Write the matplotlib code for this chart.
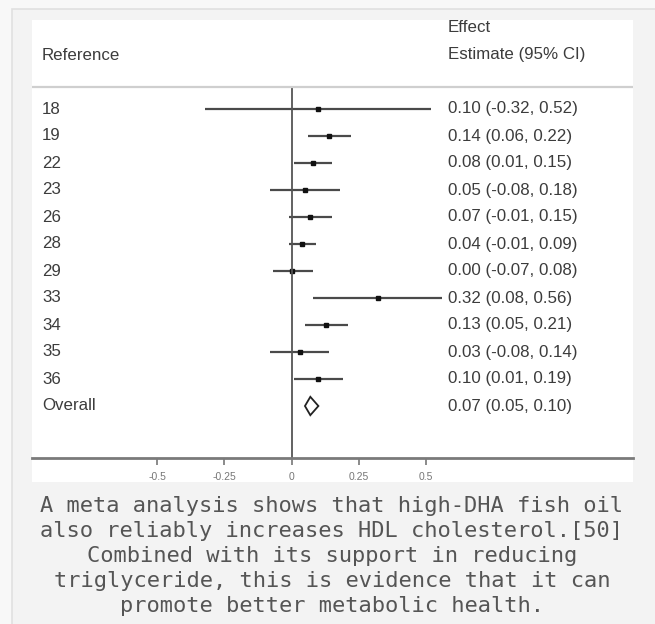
import matplotlib
matplotlib.use('Agg')
import matplotlib.pyplot as plt
from matplotlib.patches import Rectangle, Polygon
import matplotlib.transforms as mtransforms

# Forest plot data (effect estimates with 95% CI)
refs = ['18', '19', '22', '23', '26', '28', '29', '33', '34', '35', '36']
est = [0.10, 0.14, 0.08, 0.05, 0.07, 0.04, 0.00, 0.32, 0.13, 0.03, 0.10]
lo = [-0.32, 0.06, 0.01, -0.08, -0.01, -0.01, -0.07, 0.08, 0.05, -0.08, 0.01]
hi = [0.52, 0.22, 0.15, 0.18, 0.15, 0.09, 0.08, 0.56, 0.21, 0.14, 0.19]
overall_est, overall_lo, overall_hi = 0.07, 0.05, 0.10
xticks = [-0.5, -0.25, 0, 0.25, 0.5]
xtick_labels = ['-0.5', '-0.25', '0', '0.25', '0.5']

caption = [
    "A meta analysis shows that high-DHA fish oil",
    "also reliably increases HDL cholesterol.[50]",
    "Combined with its support in reducing",
    "triglyceride, this is evidence that it can",
    "promote better metabolic health.",
]

W, H = 655, 624
fig = plt.figure(figsize=(W / 100, H / 100), dpi=100, facecolor='#f8f8f8')

# background / caption box in pixel coordinates
bg = fig.add_axes([0, 0, 1, 1])
bg.set_xlim(0, W)
bg.set_ylim(H, 0)
bg.axis('off')
bg.add_patch(Rectangle((12, 9), 660, 640, facecolor='#f3f3f3',
                       edgecolor='#e0e0e0', lw=1.2))
for i, line in enumerate(caption):
    bg.text(332, 506 + 25 * i, line, ha='center', va='center',
            family='DejaVu Sans Mono', fontsize=15.8, color='#555555')

# forest plot panel (white image area)
left_px, right_px, top_px, bot_px = 32, 633, 20, 482
ax = fig.add_axes([left_px / W, 1 - bot_px / H,
                   (right_px - left_px) / W, (bot_px - top_px) / H])
ax.set_facecolor('white')

zero_px, unit_px = 291.5, 269.0
row0_px, row_px = 109.0, 27.0
ax.set_xlim((left_px - zero_px) / unit_px, (right_px - zero_px) / unit_px)
ax.set_ylim((bot_px - row0_px) / row_px, (top_px - row0_px) / row_px)

rows = list(range(len(refs)))
overall_row = len(refs)
header_y = -0.815
axis_y = 12.926

ax.hlines(rows, lo, hi, color='#4a4a4a', lw=1.6)
ax.plot(est, rows, 's', color='#111111', ms=3.5)
ax.add_patch(Polygon([(overall_lo, overall_row), (overall_est, overall_row - 0.34),
                      (overall_hi, overall_row), (overall_est, overall_row + 0.34)],
                     closed=True, facecolor='white', edgecolor='#222222', lw=1.3))
ax.plot([0, 0], [header_y, axis_y], color='#555555', lw=1.3)
ax.axhline(header_y, color='#cfcfcf', lw=1.6)

# text columns
tr = mtransforms.blended_transform_factory(ax.transAxes, ax.transData)
lab_font = dict(family='Liberation Sans', fontsize=12.2, color='#3c3c3c', va='center')
x_left = (42 - left_px) / (right_px - left_px)
x_right = (448 - left_px) / (right_px - left_px)
ax.text(x_left, -2, 'Reference', transform=tr, ha='left', **lab_font)
ax.text(x_right, -3, 'Effect', transform=tr, ha='left', **lab_font)
ax.text(x_right, -2, 'Estimate (95% CI)', transform=tr, ha='left', **lab_font)
for r, name, e, l, h in zip(rows, refs, est, lo, hi):
    ax.text(x_left, r, name, transform=tr, ha='left', **lab_font)
    ax.text(x_right, r, f'{e:.2f} ({l:.2f}, {h:.2f})', transform=tr, ha='left', **lab_font)
ax.text(x_left, overall_row, 'Overall', transform=tr, ha='left', **lab_font)
ax.text(x_right, overall_row,
        f'{overall_est:.2f} ({overall_lo:.2f}, {overall_hi:.2f})',
        transform=tr, ha='left', **lab_font)

# bottom axis
for s in ['top', 'left', 'right']:
    ax.spines[s].set_visible(False)
ax.spines['bottom'].set_position(('data', axis_y))
ax.spines['bottom'].set_color('#7a7a7a')
ax.spines['bottom'].set_linewidth(2)
ax.set_yticks([])
ax.set_xticks(xticks)
ax.set_xticklabels(xtick_labels, family='Liberation Sans', fontsize=7.5, color='#777777')
ax.tick_params(axis='x', direction='out', length=5, width=1.2, color='#777777', pad=5)

fig.savefig('out.png', dpi=100, facecolor=fig.get_facecolor())
